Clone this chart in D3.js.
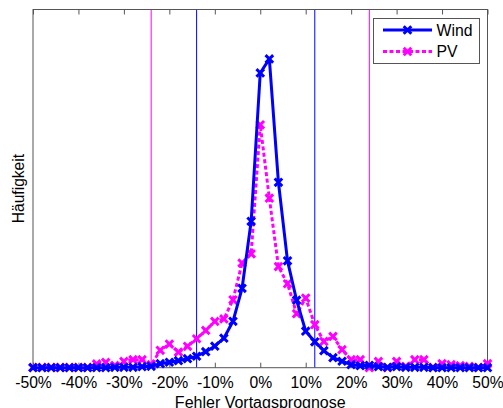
<!DOCTYPE html>
<html>
<head>
<meta charset="utf-8">
<script src="https://cdn.jsdelivr.net/npm/d3@7"></script>
<style>
  html, body { margin: 0; padding: 0; background: #fff; }
  svg { display: block; }
  text { font-family: "Liberation Sans", Arial, sans-serif; fill: #000; }
</style>
</head>
<body>
<svg id="chart" width="503" height="408"></svg>
<script>
// Forecast error bins (%)
const errorBins = d3.range(-50, 51, 2);
// Frequency (%) per bin
const windValues = [0, 0, 0, 0, 0, 0, 0, 0, 0, 0.03, 0.03, 0.03, 0.07, 0.1, 0.28, 0.38, 0.49, 0.63, 0.8, 1.12, 1.5, 2.06, 3.24, 5.54, 10.22,
  20.57, 21.55, 12.94, 7.46, 4.71, 2.55, 1.81, 1.19, 0.7, 0.45, 0.21, 0.14, 0.17, 0.07, 0.03, 0.07, 0.03, 0.03, 0.03, 0, 0, 0, 0, 0, 0, 0];
const pvValues = [0.02, 0.02, 0.02, 0.02, 0.02, 0.02, 0.02, 0.26, 0.37, 0.16, 0.44, 0.56, 0.56, 0.21, 1.21, 1.65, 1.09, 1.49, 2.02, 2.6, 3.23, 3.4, 4.74, 7.3, 7.95,
  16.95, 11.83, 7.06, 5.86, 3.77, 4.86, 3.0, 1.83, 2.18, 1.26, 0.56, 0.56, 0, 0.44, 0, 0.44, 0.09, 0.56, 0.56, 0.02, 0.28, 0.21, 0.14, 0.09, 0.02, 0.28];
const seriesNames = ["Wind", "PV"];
const windLimits = [-14, 12];
const pvLimits = [-24, 24];
const xTicks = [-50, -40, -30, -20, -10, 0, 10, 20, 30, 40, 50];
const xLabel = "Fehler Vortagsprognose";
const yLabel = "Häufigkeit";

const svg = d3.select("#chart");
const L = 33, R = 487.5, T = 9.5, B = 367.7;
const x = d3.scaleLinear().domain([-50, 50]).range([L, R]);
const y = d3.scaleLinear().domain([0, 25]).range([B, T]);

const BLUE = "#0000ff", MAG = "#ff00ff", FRAME = "#555";

// vertical limit lines
const vl = svg.append("g");
windLimits.forEach(v => vl.append("line").attr("x1", x(v)).attr("x2", x(v)).attr("y1", T).attr("y2", B)
  .attr("stroke", BLUE).attr("stroke-width", 1));
pvLimits.forEach(v => vl.append("line").attr("x1", x(v)).attr("x2", x(v)).attr("y1", T).attr("y2", B)
  .attr("stroke", MAG).attr("stroke-width", 1));

// axes
const xAxis = d3.axisBottom(x).tickValues(xTicks).tickSizeInner(-5).tickSizeOuter(0).tickPadding(9)
  .tickFormat(d => d + "%");
const gx = svg.append("g").attr("transform", `translate(0,${B})`).call(xAxis);
gx.select(".domain").remove();
gx.selectAll(".tick line").attr("stroke", FRAME);
gx.selectAll(".tick text").attr("font-size", 15.7).attr("font-family", "Liberation Sans, Arial, sans-serif").attr("fill", "#000");
const xTop = d3.axisTop(x).tickValues(xTicks).tickSizeInner(-5).tickSizeOuter(0).tickFormat("");
const gt = svg.append("g").attr("transform", `translate(0,${T})`).call(xTop);
gt.select(".domain").remove();
gt.selectAll(".tick line").attr("stroke", FRAME);

svg.append("rect").attr("x", L).attr("y", T).attr("width", R - L).attr("height", B - T)
  .attr("fill", "none").attr("stroke", FRAME).attr("stroke-width", 1);

// labels
svg.append("text").attr("x", (L + R) / 2).attr("y", 407.5).attr("text-anchor", "middle")
  .attr("font-size", 16).text(xLabel);
svg.append("text").attr("transform", `translate(23.5,${(T + B) / 2}) rotate(-90)`).attr("text-anchor", "middle")
  .attr("font-size", 15.6).text(yLabel);

// series
const xMark = "M-3.8,-3.8L3.8,3.8M-3.8,3.8L3.8,-3.8";
function drawSeries(values, color, dash) {
  const pts = errorBins.map((b, i) => [b, values[i]]);
  const line = d3.line().x(d => x(d[0])).y(d => y(d[1]));
  svg.append("path").datum(pts).attr("d", line).attr("fill", "none").attr("stroke", color)
    .attr("stroke-width", 3).attr("stroke-dasharray", dash).attr("stroke-linejoin", "round");
  svg.append("g").selectAll("path").data(pts).join("path")
    .attr("transform", d => `translate(${x(d[0])},${y(d[1])})`).attr("d", xMark)
    .attr("stroke", color).attr("stroke-width", 3).attr("fill", "none");
}
drawSeries(pvValues, MAG, "4,2.5");
drawSeries(windValues, BLUE, null);

// legend
const lg = svg.append("g");
lg.append("rect").attr("x", 373.5).attr("y", 18.5).attr("width", 106).attr("height", 45)
  .attr("fill", "#fff").attr("stroke", FRAME).attr("stroke-width", 1);
const items = [{ name: seriesNames[0], color: BLUE, dash: null, yy: 30 }, { name: seriesNames[1], color: MAG, dash: "4,2.5", yy: 51.5 }];
items.forEach(it => {
  lg.append("line").attr("x1", 383).attr("x2", 432).attr("y1", it.yy).attr("y2", it.yy)
    .attr("stroke", it.color).attr("stroke-width", 3).attr("stroke-dasharray", it.dash);
  lg.append("path").attr("transform", `translate(407.5,${it.yy})`).attr("d", xMark)
    .attr("stroke", it.color).attr("stroke-width", 3).attr("fill", "none");
  lg.append("text").attr("x", 436.5).attr("y", it.yy + 5.8).attr("font-size", 15.8).text(it.name);
});
</script>
</body>
</html>
